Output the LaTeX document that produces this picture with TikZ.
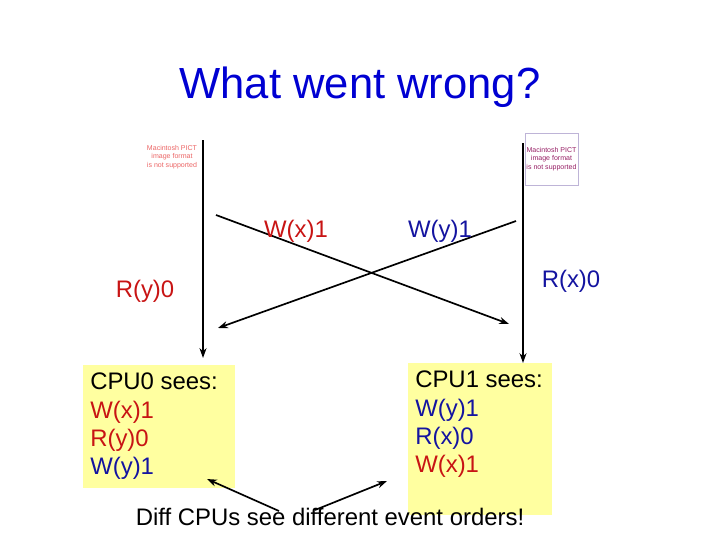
\documentclass[tikz,border=0pt]{standalone}
\usepackage{fontspec}
\setmainfont{Liberation Sans}
\usetikzlibrary{arrows.meta}
\definecolor{titleblue}{RGB}{0,0,210}
\definecolor{wred}{RGB}{200,20,20}
\definecolor{wblue}{RGB}{20,20,160}
\definecolor{noteyellow}{RGB}{255,255,160}
\definecolor{pictred}{RGB}{235,100,100}
\definecolor{pictpurple}{RGB}{150,30,100}
\definecolor{pictframe}{RGB}{190,180,215}

\begin{document}
\begin{tikzpicture}
			[x=0.025cm,y=-0.025cm,
			 big/.style={font=\fontsize{17}{20}\selectfont},
			 seebox/.style={fill=noteyellow,inner sep=0pt,anchor=north west},
			 pict/.style={font=\fontsize{5}{6}\selectfont,align=center,inner sep=1pt},
			 msg/.style={line width=1.2pt,-{Stealth[length=7pt,width=5pt]}}]
			\useasboundingbox (0,0) rectangle (720,540);
			\node[font=\fontsize{31}{36}\selectfont,text=titleblue,anchor=base] (title) at (360,98) {What went wrong?};
			
			% the two pictures on top
			\node[pict,text=pictred] (pict0) at (172,157) {Macintosh PICT\\image format\\is not supported};
			\node[pict,text=pictpurple,draw=pictframe,minimum width=1.175cm,minimum height=1.3cm] (pict1) at (551.5,159) {Macintosh PICT\\image format\\is not supported};
			
			% what each cpu sees
			\node[seebox,minimum width=3.8cm,minimum height=3.075cm] (cpu0) at (83,365) {};
			\node[seebox,minimum width=3.6cm,minimum height=3.8cm] (cpu1) at (408,363) {};
			\node[big,align=left,anchor=north west,inner sep=0pt] (see0) at (90,373) {CPU0 sees:\\\textcolor{wred}{W(x)1}\\\textcolor{wred}{R(y)0}\\\textcolor{wblue}{W(y)1}};
			\node[big,align=left,anchor=north west,inner sep=0pt] (see1) at (415,371) {CPU1 sees:\\\textcolor{wblue}{W(y)1}\\\textcolor{wblue}{R(x)0}\\\textcolor{wred}{W(x)1}};
			
			\coordinate (top0) at (203,140);
			\coordinate (top1) at (523,143);
			\draw[msg,shorten >=5pt] (top0) -- (top0 |- cpu0.north);
			\draw[msg] (top1) -- (top1 |- cpu1.north);
			
			\coordinate (wx0) at (216,215);
			\coordinate (wx1) at (509,324);
			\coordinate (wy0) at (516,221);
			\coordinate (wy1) at (218,328);
			\draw[msg] (wx0) -- (wx1);
			\draw[msg] (wy0) -- (wy1);
			
			\node[big,text=wred,anchor=base] (wx) at (296,237) {W(x)1};
			\node[big,text=wblue,anchor=base] (wy) at (440,237) {W(y)1};
			\node[big,text=wred,anchor=base] (ry) at (145,297) {R(y)0};
			\node[big,text=wblue,anchor=base] (rx) at (571,287) {R(x)0};
			
			\node[big,anchor=base] (diff) at (330,525) {Diff CPUs see different event orders!};
			\coordinate (d0) at (279,511);
			\coordinate (d1) at (315,510);
			\coordinate (h0) at (207,479);
			\coordinate (h1) at (387,481);
			\draw[msg] (d0) -- (h0);
			\draw[msg] (d1) -- (h1);
			\end{tikzpicture}
\end{document}
